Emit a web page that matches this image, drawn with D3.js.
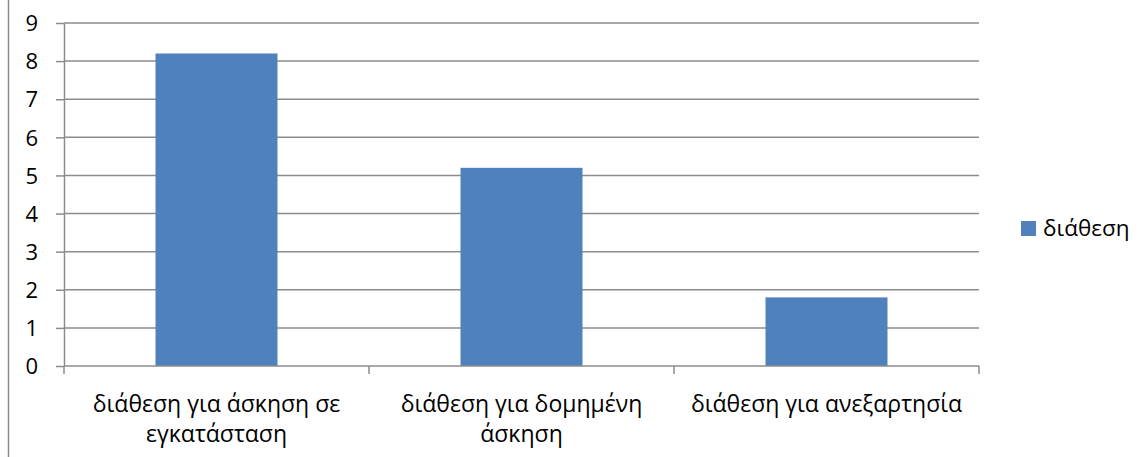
<!DOCTYPE html>
<html>
<head>
<meta charset="utf-8">
<script src="https://cdn.jsdelivr.net/npm/d3@7"></script>
<style>
  html, body { margin: 0; padding: 0; background: #fff; }
  svg { display: block; }
  text { font-family: "Open Sans", "Noto Sans", sans-serif; fill: #000; }
</style>
</head>
<body>
<svg id="chart" width="1148" height="457"></svg>
<script>
const categories = [
  "διάθεση για άσκηση σε εγκατάσταση",
  "διάθεση για δομημένη άσκηση",
  "διάθεση για ανεξαρτησία"
];
const seriesName = "διάθεση";
const values = [8.2, 5.2, 1.8];
const yTicks = [0, 1, 2, 3, 4, 5, 6, 7, 8, 9];

const svg = d3.select("#chart");
const W = 1148, H = 457;
const plot = { left: 64, right: 979, top: 23, bottom: 366 };
const gridColor = "#8c8c8c";
const barColor = "#4f81bd";
const catFont = 23, tickFont = 22, legendFont = 22.5;

// frame left border
svg.append("line")
  .attr("x1", 8.5).attr("x2", 8.5).attr("y1", 0).attr("y2", H)
  .attr("stroke", "#8c8c8c").attr("stroke-width", 1.5);

const x = d3.scaleBand().domain(categories).range([plot.left, plot.right]).paddingInner(0).paddingOuter(0);
const y = d3.scaleLinear().domain([0, 9]).range([plot.bottom, plot.top]);

// gridlines
svg.append("g").selectAll("line").data(yTicks.filter(d => d > 0)).join("line")
  .attr("x1", plot.left).attr("x2", plot.right)
  .attr("y1", d => y(d)).attr("y2", d => y(d))
  .attr("stroke", gridColor).attr("stroke-width", 1.5);

// bars
const barW = x.bandwidth() / 2.5;
svg.append("g").selectAll("rect").data(values).join("rect")
  .attr("x", (d, i) => x(categories[i]) + (x.bandwidth() - barW) / 2)
  .attr("width", barW)
  .attr("y", d => y(d))
  .attr("height", d => y(0) - y(d))
  .attr("fill", barColor);

// y axis
const yAxis = d3.axisLeft(y).tickValues(yTicks).tickSize(8).tickPadding(18).tickSizeOuter(0);
const gy = svg.append("g").attr("transform", `translate(${plot.left},0)`).call(yAxis);
gy.attr("font-family", null).attr("font-size", null);
gy.select(".domain").attr("stroke", gridColor).attr("stroke-width", 1.5);
gy.selectAll(".tick line").attr("stroke", gridColor).attr("stroke-width", 1.5);
gy.selectAll(".tick text").style("font-size", tickFont + "px").attr("fill", "#000").attr("dy", "0.35em");

// x axis line and ticks at category boundaries
const boundaries = categories.map(c => x(c)).concat([plot.right]);
svg.append("line").attr("x1", plot.left).attr("x2", plot.right)
  .attr("y1", plot.bottom).attr("y2", plot.bottom)
  .attr("stroke", gridColor).attr("stroke-width", 1.5);
svg.append("g").selectAll("line").data(boundaries).join("line")
  .attr("x1", d => d).attr("x2", d => d)
  .attr("y1", plot.bottom).attr("y2", plot.bottom + 8)
  .attr("stroke", gridColor).attr("stroke-width", 1.5);

// category labels with wrapping
const maxW = 292;
const labels = svg.append("g");
categories.forEach((c, i) => {
  const cx = x(c) + x.bandwidth() / 2;
  const t = labels.append("text").attr("text-anchor", "middle").style("font-size", catFont + "px");
  const words = c.split(" ");
  let lines = [], cur = [];
  const probe = svg.append("text").style("font-size", catFont + "px");
  words.forEach(w => {
    const test = cur.concat([w]).join(" ");
    probe.text(test);
    if (probe.node().getComputedTextLength() > maxW && cur.length) {
      lines.push(cur.join(" "));
      cur = [w];
    } else cur.push(w);
  });
  lines.push(cur.join(" "));
  probe.remove();
  lines.forEach((ln, k) => {
    t.append("tspan").attr("x", cx).attr("y", 412 + k * 30).text(ln);
  });
});

// legend
const lg = svg.append("g");
lg.append("rect").attr("x", 1021).attr("y", 221).attr("width", 15).attr("height", 15).attr("fill", barColor);
lg.append("text").attr("x", 1043).attr("y", 236).style("font-size", legendFont + "px").text(seriesName);
</script>
</body>
</html>
